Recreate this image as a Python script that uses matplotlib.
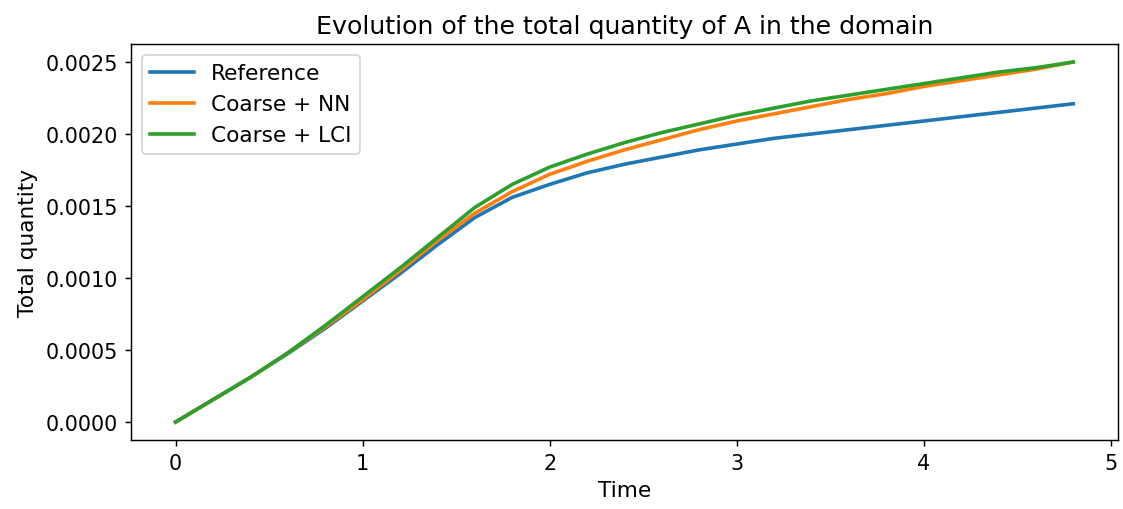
import numpy as np
import matplotlib
matplotlib.use("Agg")
import matplotlib.pyplot as plt

# Time samples
time = [0.0, 0.2, 0.4, 0.6, 0.8, 1.0, 1.2, 1.4, 1.6, 1.8, 2.0, 2.2, 2.4,
        2.6, 2.8, 3.0, 3.2, 3.4, 3.6, 3.8, 4.0, 4.2, 4.4, 4.6, 4.8]

# Total quantity of A for each model
reference = [0.0, 0.000155, 0.00031, 0.000475, 0.00065, 0.00084, 0.00103,
             0.00123, 0.00142, 0.00156, 0.00165, 0.00173, 0.00179, 0.00184,
             0.00189, 0.00193, 0.00197, 0.00200, 0.00203, 0.00206, 0.00209,
             0.00212, 0.00215, 0.00218, 0.00221]
coarse_nn = [0.0, 0.000155, 0.00031, 0.00048, 0.00066, 0.00085, 0.00105,
             0.00126, 0.00145, 0.00160, 0.00172, 0.00181, 0.00189, 0.00196,
             0.00203, 0.00209, 0.00214, 0.00219, 0.00224, 0.00228, 0.00233,
             0.00237, 0.00241, 0.00245, 0.00250]
coarse_lci = [0.0, 0.000155, 0.00031, 0.00048, 0.00067, 0.00087, 0.00107,
              0.00128, 0.00149, 0.00165, 0.00177, 0.00186, 0.00194, 0.00201,
              0.00207, 0.00213, 0.00218, 0.00223, 0.00227, 0.00231, 0.00235,
              0.00239, 0.00243, 0.00246, 0.00250]

plt.rcParams.update({
    "font.size": 11.5,
    "axes.titlesize": 14,
    "axes.labelsize": 12,
    "xtick.labelsize": 11.5,
    "ytick.labelsize": 11.5,
    "legend.fontsize": 12,
})

fig = plt.figure(figsize=(8.64, 3.923), dpi=130)
ax = fig.add_axes([0.1164, 0.1353, 0.8791, 0.7765])

ax.plot(time, reference, label="Reference", lw=2)
ax.plot(time, coarse_nn, label="Coarse + NN", lw=2)
ax.plot(time, coarse_lci, label="Coarse + LCI", lw=2)

ax.set_title("Evolution of the total quantity of A in the domain")
ax.set_xlabel("Time")
ax.set_ylabel("Total quantity")
ax.legend(loc="upper left")

fig.savefig("out.png", dpi=130)
